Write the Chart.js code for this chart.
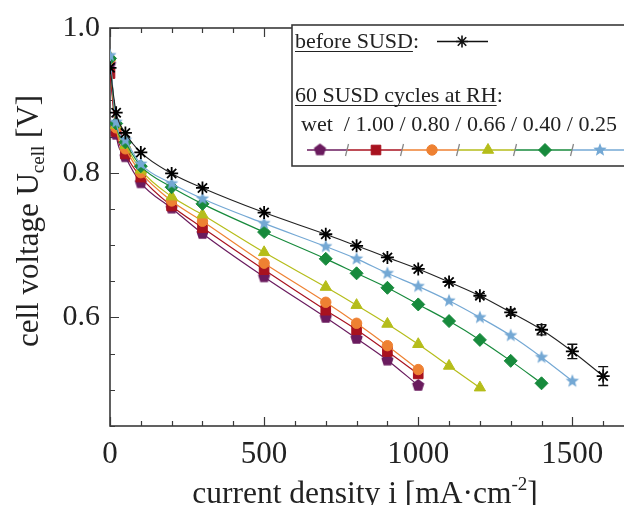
<!DOCTYPE html>
<html><head><meta charset="utf-8">
<script src="https://cdn.jsdelivr.net/npm/chart.js@4/dist/chart.umd.min.js"></script>
<style>
html,body{margin:0;padding:0;overflow:hidden;background:#fff;width:624px;height:505px}
canvas{display:block}
</style></head>
<body>
<canvas id="c" width="650" height="505" style="width:650px;height:505px"></canvas>
<script>
// ---- data ----
const currentDensity = [0, 20, 50, 100, 200, 300, 500, 700, 800, 900, 1000, 1100, 1200, 1300, 1400, 1500, 1600];
const beforeSUSD    = [0.945, 0.883, 0.855, 0.828, 0.799, 0.779, 0.745, 0.715, 0.699, 0.683, 0.667, 0.649, 0.630, 0.607, 0.583, 0.553, 0.519];
const beforeSUSDErr = [0, 0, 0, 0, 0, 0, 0, 0, 0, 0, 0.001, 0.002, 0.003, 0.004, 0.007, 0.010, 0.013];
const rhWet  = [0.950, 0.853, 0.822, 0.786, 0.751, 0.716, 0.656, 0.600, 0.571, 0.541, 0.506];
const rh100  = [0.937, 0.857, 0.826, 0.794, 0.754, 0.724, 0.666, 0.610, 0.583, 0.553, 0.522];
const rh080  = [0.957, 0.862, 0.833, 0.800, 0.761, 0.733, 0.675, 0.621, 0.592, 0.561, 0.528];
const rh066  = [0.960, 0.866, 0.838, 0.804, 0.767, 0.742, 0.690, 0.642, 0.617, 0.591, 0.563, 0.533, 0.503];
const rh040  = [0.958, 0.868, 0.842, 0.809, 0.780, 0.757, 0.718, 0.681, 0.661, 0.641, 0.618, 0.595, 0.569, 0.540, 0.509];
const rh025  = [0.962, 0.870, 0.845, 0.812, 0.785, 0.764, 0.730, 0.698, 0.681, 0.661, 0.643, 0.623, 0.600, 0.575, 0.545, 0.512];
const rhLabels = ['wet', '1.00', '0.80', '0.66', '0.40', '0.25'];
const xTickValues = [0, 500, 1000, 1500];
const yTickValues = [0.6, 0.8, 1.0];

// ---- styles ----
const SERIF = '"Liberation Serif", "DejaVu Serif", serif';
const colors = {
  wet: '#6a1b5e', r100: '#a8121f', r080: '#ee8132', r066: '#b5bd1a', r040: '#178a3c', r025: '#74a8d4'
};

function polyImage(n, rOut, rIn, color, rot) {
  const s = Math.ceil(rOut * 2 + 2);
  const cv = document.createElement('canvas');
  cv.width = s; cv.height = s;
  const g = cv.getContext('2d');
  g.translate(s / 2, s / 2);
  g.beginPath();
  const m = rIn ? n * 2 : n;
  for (let i = 0; i < m; i++) {
    const r = rIn ? (i % 2 ? rIn : rOut) : rOut;
    const a = -Math.PI / 2 + (rot || 0) + i * 2 * Math.PI / m;
    const px = r * Math.cos(a), py = r * Math.sin(a);
    i ? g.lineTo(px, py) : g.moveTo(px, py);
  }
  g.closePath();
  g.fillStyle = color; g.fill();
  return cv;
}
const pentagonImg = polyImage(5, 6.4, 0, colors.wet);
const starImg = polyImage(5, 7, 3.0, colors.r025);

function pairs(arr) { return arr.map((v, i) => ({ x: currentDensity[i], y: v })); }

function ds(label, arr, color, style, radius, extra) {
  return Object.assign({
    label, data: pairs(arr), borderColor: color, backgroundColor: color,
    pointBackgroundColor: color, pointBorderColor: color,
    pointStyle: style, pointRadius: radius, pointBorderWidth: 1,
    borderWidth: 1.2, cubicInterpolationMode: 'monotone', fill: false
  }, extra || {});
}

const datasets = [
  ds('before SUSD', beforeSUSD, '#000', 'star', 6.5, { pointBorderWidth: 1.8, pointBackgroundColor: 'rgba(0,0,0,0)', borderColor: '#222', borderWidth: 1.1 }),
  ds('0.25', rh025, colors.r025, starImg, 7),
  ds('0.40', rh040, colors.r040, 'rectRot', 6.5),
  ds('0.66', rh066, colors.r066, 'triangle', 6.5),
  ds('0.80', rh080, colors.r080, 'circle', 5.2),
  ds('1.00', rh100, colors.r100, 'rect', 6.8),
  ds('wet', rhWet, colors.wet, pentagonImg, 6)
];

function drawParts(ctx, parts, x, y, align) {
  let total = 0;
  parts.forEach(p => { ctx.font = p.size + 'px ' + SERIF; p.w = ctx.measureText(p.t).width; total += p.w; });
  let cx = align === 'center' ? x - total / 2 : x;
  parts.forEach(p => {
    ctx.font = p.size + 'px ' + SERIF;
    ctx.fillText(p.t, cx, y + (p.dy || 0));
    cx += p.w;
  });
}

function drawSpaced(ctx, text, x, y, targetW) {
  const w = ctx.measureText(text).width;
  const extra = (targetW - w) / (text.length - 1);
  let cx = x;
  for (const ch of text) { ctx.fillText(ch, cx, y); cx += ctx.measureText(ch).width + extra; }
}

const framePlugin = {
  id: 'frame',
  beforeDatasetsDraw(chart) {
    const { ctx, chartArea: a, scales: { x, y } } = chart;
    ctx.save();
    ctx.strokeStyle = '#3a3a3a';
    ctx.lineWidth = 1.6;
    ctx.strokeRect(a.left, a.top, a.right - a.left, a.bottom - a.top);
    ctx.lineWidth = 1.2;
    ctx.beginPath();
    for (let v = 0; v <= 1700; v += 100) {
      const px = Math.round(x.getPixelForValue(v)) + 0.5;
      const L = v % 500 === 0 ? 9 : 5;
      ctx.moveTo(px, a.bottom); ctx.lineTo(px, a.bottom - L);
      ctx.moveTo(px, a.top); ctx.lineTo(px, a.top + L);
    }
    for (let k = 9; k <= 20; k++) {
      const v = k * 0.05;
      const py = Math.round(y.getPixelForValue(v)) + 0.5;
      const L = (k % 4 === 0) ? 9 : 5;
      ctx.moveTo(a.left, py); ctx.lineTo(a.left + L, py);
      ctx.moveTo(a.right, py); ctx.lineTo(a.right - L, py);
    }
    ctx.stroke();
    ctx.restore();
  },
  afterDatasetsDraw(chart) {
    const { ctx, scales: { x, y } } = chart;
    ctx.save();
    // error bars of the reference curve
    ctx.strokeStyle = '#111';
    ctx.lineWidth = 1.3;
    ctx.beginPath();
    beforeSUSDErr.forEach((e, i) => {
      if (e < 0.003) return;
      const px = x.getPixelForValue(currentDensity[i]);
      const y1 = y.getPixelForValue(beforeSUSD[i] + e), y2 = y.getPixelForValue(beforeSUSD[i] - e);
      ctx.moveTo(px, y1); ctx.lineTo(px, y2);
      ctx.moveTo(px - 5, y1); ctx.lineTo(px + 5, y1);
      ctx.moveTo(px - 5, y2); ctx.lineTo(px + 5, y2);
    });
    ctx.stroke();

    // legend box
    const bx = 292, by = 25, bh = 141;
    ctx.fillStyle = '#fff';
    ctx.fillRect(bx, by, 400, bh);
    ctx.strokeStyle = '#3a3a3a';
    ctx.lineWidth = 1.6;
    ctx.strokeRect(bx, by, 400, bh);

    ctx.fillStyle = '#222';
    ctx.textBaseline = 'alphabetic';
    ctx.textAlign = 'left';
    ctx.font = '22px ' + SERIF;
    const t1 = 'before SUSD';
    ctx.fillText(t1 + ':', 295, 48);
    const t2 = '60 SUSD cycles at RH';
    ctx.fillText(t2 + ':', 295, 102);
    ctx.strokeStyle = '#222';
    ctx.lineWidth = 1;
    ctx.beginPath();
    ctx.moveTo(295, 51.5); ctx.lineTo(295 + ctx.measureText(t1).width, 51.5);
    ctx.moveTo(295, 105.5); ctx.lineTo(295 + ctx.measureText(t2).width, 105.5);
    ctx.stroke();
    drawSpaced(ctx, rhLabels.join(' / ').replace('wet /', 'wet  /'), 301, 131, 316);

    // before SUSD sample
    ctx.strokeStyle = '#111';
    ctx.lineWidth = 1.3;
    ctx.beginPath(); ctx.moveTo(437, 41.5); ctx.lineTo(488, 41.5); ctx.stroke();
    ctx.lineWidth = 1.6;
    Chart.helpers.drawPoint(ctx, { pointStyle: 'star', radius: 6, borderWidth: 1.6 }, 462, 41.5);

    // coloured sample row
    const rowY = 150;
    const segs = [[307, 347, colors.wet], [347, 402, colors.r100], [402, 458, colors.r080],
                  [458, 515, colors.r066], [515, 572, colors.r040], [572, 640, colors.r025]];
    ctx.lineWidth = 1.3;
    segs.forEach(s => { ctx.strokeStyle = s[2]; ctx.beginPath(); ctx.moveTo(s[0], rowY); ctx.lineTo(s[1], rowY); ctx.stroke(); });
    ctx.strokeStyle = '#888';
    ctx.lineWidth = 1.3;
    [347, 402, 458, 515, 572].forEach(sx => { ctx.beginPath(); ctx.moveTo(sx - 1.5, rowY + 6); ctx.lineTo(sx + 1.5, rowY - 6); ctx.stroke(); });
    const marks = [[320, 6], [376, 5], [432, 4], [488, 3], [545, 2], [600, 1]];
    marks.forEach(m => {
      const d = datasets[m[1]];
      ctx.fillStyle = d.pointBackgroundColor; ctx.strokeStyle = d.pointBorderColor;
      ctx.lineWidth = 1;
      Chart.helpers.drawPoint(ctx, { pointStyle: d.pointStyle, radius: d.pointRadius, borderWidth: 1 }, m[0], rowY);
    });

    // axis titles
    ctx.fillStyle = '#222';
    ctx.textAlign = 'left';
    ctx.textBaseline = 'alphabetic';
    drawParts(ctx, [{ t: 'current density i [mA\u00B7cm', size: 31.5 }, { t: '-2', size: 19, dy: -13 }, { t: ']', size: 31.5 }], 365, 503, 'center');
    ctx.save();
    ctx.translate(38, 221);
    ctx.rotate(-Math.PI / 2);
    drawParts(ctx, [{ t: 'cell voltage U', size: 31 }, { t: 'cell', size: 19, dy: 6 }, { t: ' [V]', size: 31 }], 0, 0, 'center');
    ctx.restore();
    ctx.restore();
  }
};

new Chart(document.getElementById('c'), {
  type: 'line',
  data: { datasets },
  options: {
    responsive: false,
    animation: false,
    events: [],
    layout: { padding: { top: 25, right: 16, left: 0, bottom: 0 } },
    plugins: { legend: { display: false }, tooltip: { enabled: false } },
    scales: {
      x: {
        type: 'linear', min: 0, max: 1700,
        grid: { display: false, drawTicks: false },
        border: { display: false },
        afterBuildTicks: s => { s.ticks = xTickValues.map(v => ({ value: v })); },
        afterFit: s => { s.height = 79; },
        ticks: { autoSkip: false, maxRotation: 0, padding: 10, color: '#222', font: { family: SERIF, size: 31 }, callback: v => String(v) }
      },
      y: {
        type: 'linear', min: 0.45, max: 1.0,
        grid: { display: false, drawTicks: false },
        border: { display: false },
        afterBuildTicks: s => { s.ticks = yTickValues.map(v => ({ value: v })); },
        afterFit: s => { s.width = 110; },
        ticks: { padding: 10, color: '#222', font: { family: SERIF, size: 30 }, callback: v => v.toFixed(1) }
      }
    }
  },
  plugins: [framePlugin]
});
</script>
</body></html>
